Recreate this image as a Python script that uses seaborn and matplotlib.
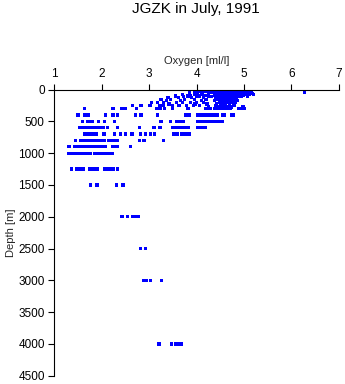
import numpy as np
import pandas as pd
import matplotlib
matplotlib.use("Agg")
import matplotlib.pyplot as plt
import seaborn as sns

# Oxygen [ml/l] values observed at each sampling depth [m]
o2_0 = [4.20, 4.28, 4.35, 4.42, 4.48, 4.55, 4.60, 4.66, 4.72, 4.80, 4.88, 4.95, 5.42]
o2_5 = [4.32, 4.45, 4.52, 4.63, 4.70, 4.76, 4.84, 4.90]
o2_10 = [4.15, 4.30, 4.40, 4.50, 4.58, 4.65, 4.72, 4.78, 4.85, 4.92, 5.00]
o2_15 = [4.26, 4.36, 4.44, 4.53, 4.61, 4.69, 4.75, 4.82, 4.88]
o2_20 = [4.05, 4.25, 4.38, 4.47, 4.55, 4.62, 4.70, 4.76, 4.83, 4.90, 5.05]
o2_25 = [4.18, 4.33, 4.42, 4.50, 4.57, 4.66, 4.73, 4.81, 4.94]
o2_30 = [3.95, 4.22, 4.45, 4.52, 4.60, 4.68, 4.74, 4.80, 4.88, 4.98, 5.10]
o2_40 = [4.02, 4.30, 4.40, 4.49, 4.58, 4.65, 4.72, 4.83, 4.92, 5.02, 5.12]
o2_50 = [3.85, 4.10, 4.35, 4.48, 4.56, 4.63, 4.70, 4.78, 4.86, 4.95, 5.05, 5.15, 6.27]
o2_60 = [4.00, 4.25, 4.40, 4.52, 4.60, 4.68, 4.76, 4.84, 4.92, 5.08, 5.18]
o2_75 = [3.70, 3.95, 4.12, 4.42, 4.50, 4.58, 4.66, 4.74, 4.82, 4.90, 5.02, 5.12, 5.20]
o2_90 = [3.88, 4.18, 4.38, 4.47, 4.54, 4.64, 4.72, 4.80, 4.88, 4.98]
o2_100 = [3.55, 3.82, 4.05, 4.25, 4.45, 4.55, 4.62, 4.70, 4.78, 4.86, 4.95, 5.08]
o2_110 = [3.72, 4.00, 4.32, 4.42, 4.50, 4.58, 4.66, 4.74, 4.82, 4.90]
o2_125 = [3.40, 3.62, 3.90, 4.15, 4.40, 4.52, 4.60, 4.68, 4.75, 4.84]
o2_150 = [3.25, 3.45, 3.75, 3.95, 4.20, 4.45, 4.55, 4.63, 4.72, 4.80]
o2_175 = [3.36, 3.66, 4.10, 4.38, 4.48, 4.58, 4.67, 4.76, 4.86]
o2_200 = [3.05, 3.18, 3.30, 3.58, 3.70, 3.88, 4.00, 4.15, 4.48, 4.56, 4.64, 4.72, 4.82]
o2_225 = [3.42, 3.97, 4.22, 4.42, 4.52, 4.61, 4.69, 4.78]
o2_250 = [2.65, 2.83, 3.02, 3.23, 3.31, 3.49, 3.63, 3.79, 3.93, 4.07, 4.40, 4.50, 4.60, 4.70, 4.80]
o2_275 = [4.25, 4.46, 4.55, 4.65, 4.74, 4.98]
o2_300 = [1.64, 2.24, 2.43, 2.47, 2.50, 2.74, 3.16, 3.23, 3.33, 3.50, 3.82, 4.19, 4.24, 4.30,
          4.38, 4.43, 4.48, 4.53, 4.58, 4.63, 4.68, 4.72, 4.89, 4.95, 5.00]
o2_400 = [1.50, 1.64, 1.68, 1.72, 2.08, 2.24, 2.34, 2.72, 2.83, 3.17, 3.77, 3.84, 4.03, 4.08,
          4.13, 4.18, 4.23, 4.28, 4.33, 4.39, 4.44, 4.54, 4.58, 4.73, 4.77]
o2_500 = [1.59, 1.70, 1.75, 1.80, 1.93, 2.06, 2.27, 3.25, 3.45, 3.59, 3.63, 3.68, 3.73, 4.03,
          4.08, 4.13, 4.19, 4.23, 4.28, 4.33, 4.38, 4.43, 4.49, 4.54]
o2_600 = [1.54, 1.58, 1.63, 1.68, 1.73, 1.77, 1.82, 1.87, 1.92, 1.98, 2.03, 2.12, 2.33, 2.79,
          3.10, 3.23, 3.49, 3.52, 3.57, 3.62, 3.66, 3.70, 3.78, 3.83, 4.03, 4.08, 4.13, 4.19]
o2_700 = [1.63, 1.68, 1.73, 1.78, 1.84, 1.89, 2.05, 2.27, 2.40, 2.50, 2.64, 2.82, 2.93, 3.03,
          3.12, 3.52, 3.56, 3.59, 3.69, 3.73, 3.79, 3.85]
o2_800 = [1.45, 1.56, 1.61, 1.66, 1.71, 1.76, 1.81, 1.87, 1.91, 1.96, 2.01, 2.05, 2.15, 2.20,
          2.26, 2.33, 2.79, 2.89, 3.31]
o2_900 = [1.31, 1.42, 1.48, 1.53, 1.58, 1.63, 1.68, 1.73, 1.78, 1.83, 1.87, 1.91, 1.96, 2.00,
          2.04, 2.08, 2.22, 2.27, 2.33, 2.61]
o2_1000 = [1.31, 1.35, 1.40, 1.44, 1.49, 1.53, 1.58, 1.62, 1.67, 1.72, 1.77, 1.85, 1.90, 1.95,
           2.00, 2.04, 2.09, 2.14, 2.18, 2.22]
o2_1250 = [1.37, 1.48, 1.52, 1.56, 1.62, 1.75, 1.80, 1.85, 1.90, 2.06, 2.12, 2.18, 2.24, 2.33]
o2_1500 = [1.77, 1.90, 2.31, 2.45]
o2_2000 = [2.43, 2.55, 2.66, 2.72, 2.78]
o2_2500 = [2.82, 2.93]
o2_3000 = [2.89, 2.95, 3.03, 3.26]
o2_4000 = [3.21, 3.47, 3.55, 3.62, 3.69]

depth_levels = [0, 5, 10, 15, 20, 25, 30, 40, 50, 60, 75, 90, 100, 110, 125, 150, 175, 200,
                225, 250, 275, 300, 400, 500, 600, 700, 800, 900, 1000, 1250, 1500, 2000,
                2500, 3000, 4000]
oxygen_lists = [o2_0, o2_5, o2_10, o2_15, o2_20, o2_25, o2_30, o2_40, o2_50, o2_60, o2_75,
                o2_90, o2_100, o2_110, o2_125, o2_150, o2_175, o2_200, o2_225, o2_250,
                o2_275, o2_300, o2_400, o2_500, o2_600, o2_700, o2_800, o2_900, o2_1000,
                o2_1250, o2_1500, o2_2000, o2_2500, o2_3000, o2_4000]

x_ticks = [1, 2, 3, 4, 5, 6, 7]
y_ticks = [0, 500, 1000, 1500, 2000, 2500, 3000, 3500, 4000, 4500]

rows = []
for d, lst in zip(depth_levels, oxygen_lists):
    for v in lst:
        rows.append((v, d))
df = pd.DataFrame(rows, columns=["Oxygen", "Depth"])

sns.set_style("white")
plt.rcParams["font.family"] = ["Liberation Sans", "DejaVu Sans"]

fig = plt.figure(figsize=(3.45, 3.84), dpi=100)
ax = fig.add_axes([54.3 / 345, 1 - 375.7 / 384, (338.8 - 54.3) / 345, (375.7 - 89.6) / 384])

sns.scatterplot(data=df, x="Oxygen", y="Depth", ax=ax, marker="s", s=5.5,
                color="#0000ff", edgecolor="none", linewidth=0)

ax.set_xlim(1, 7)
ax.set_ylim(4500, 0)
ax.set_xticks(x_ticks)
ax.set_yticks(y_ticks)
ax.xaxis.set_ticks_position("top")
ax.xaxis.set_label_position("top")
ax.tick_params(axis="both", direction="out", length=4.3, width=0.8, color="black",
               labelsize=8.5, labelcolor="black", pad=2.5)
ax.tick_params(axis="x", which="both", top=True, bottom=False)
ax.tick_params(axis="y", which="both", left=True, right=False)
ax.set_xlabel("Oxygen [ml/l]", fontsize=8, labelpad=3)
ax.set_ylabel("Depth [m]", fontsize=8, labelpad=2)

for side in ["right", "bottom"]:
    ax.spines[side].set_visible(False)
for side in ["left", "top"]:
    ax.spines[side].set_visible(True)
    ax.spines[side].set_color("black")
    ax.spines[side].set_linewidth(0.8)

fig.text(196 / 345, 1 - 8.5 / 384, "JGZK in July, 1991", ha="center", va="center",
         fontsize=11, color="black")

fig.savefig("out.png", dpi=100)
